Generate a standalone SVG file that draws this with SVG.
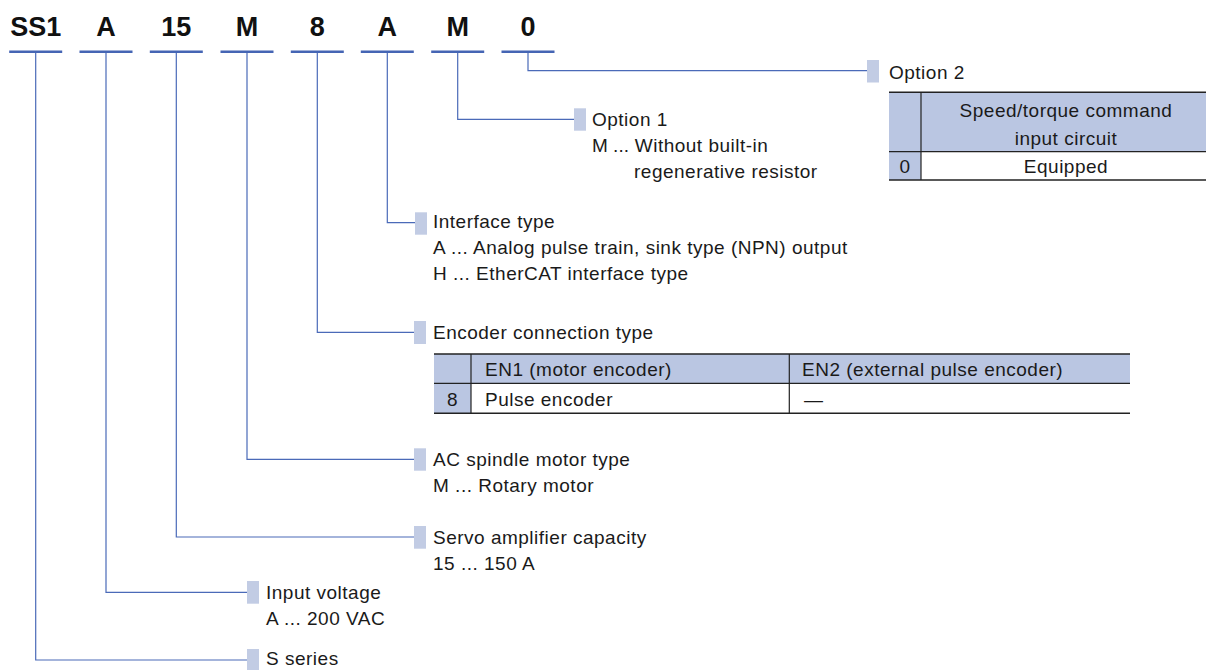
<svg xmlns="http://www.w3.org/2000/svg" width="1206" height="670" viewBox="0 0 1206 670">
<style>
.code{font-family:"Liberation Sans",Arial,sans-serif;font-weight:bold;font-size:27px;fill:#111;text-anchor:middle}
.t{font-family:"Liberation Sans",Arial,sans-serif;font-size:19px;fill:#1a1a1a;letter-spacing:0.5px}
.c{text-anchor:middle}
.ul{stroke:#4565b4;stroke-width:2.4}
.conn{fill:none;stroke:#4a6ab8;stroke-width:1.2}
.mk{fill:#c2cce4}
.hd{fill:#bac6e2}
.ln{stroke:#222;stroke-width:1.6}
.vl{stroke:#222;stroke-width:1.2}
</style>
<rect width="1206" height="670" fill="#fff"/>

<g id="code">
  <text class="code" x="35.7" y="36">SS1</text>
  <text class="code" x="106" y="36">A</text>
  <text class="code" x="176.3" y="36">15</text>
  <text class="code" x="247" y="36">M</text>
  <text class="code" x="317.3" y="36">8</text>
  <text class="code" x="387.3" y="36">A</text>
  <text class="code" x="457.7" y="36">M</text>
  <text class="code" x="528" y="36">0</text>
  <line class="ul" x1="9.2" y1="51.7" x2="62.2" y2="51.7"/>
  <line class="ul" x1="79.5" y1="51.7" x2="132.5" y2="51.7"/>
  <line class="ul" x1="149.8" y1="51.7" x2="202.8" y2="51.7"/>
  <line class="ul" x1="220.5" y1="51.7" x2="273.5" y2="51.7"/>
  <line class="ul" x1="290.8" y1="51.7" x2="343.8" y2="51.7"/>
  <line class="ul" x1="360.8" y1="51.7" x2="413.8" y2="51.7"/>
  <line class="ul" x1="431.2" y1="51.7" x2="484.2" y2="51.7"/>
  <line class="ul" x1="501.5" y1="51.7" x2="554.5" y2="51.7"/>
</g>

<g id="connectors">
  <path class="conn" d="M35.7,53 V660 H247"/>
  <path class="conn" d="M106,53 V592.3 H247"/>
  <path class="conn" d="M176.3,53 V537 H414"/>
  <path class="conn" d="M247,53 V459.3 H414"/>
  <path class="conn" d="M317.3,53 V332.3 H414"/>
  <path class="conn" d="M387.3,53 V222.7 H415"/>
  <path class="conn" d="M457.7,53 V119.3 H574"/>
  <path class="conn" d="M528,53 V70.7 H867"/>
</g>

<g id="option2">
  <rect class="mk" x="867" y="60" width="12" height="22.5"/>
  <text class="t" x="889" y="79">Option 2</text>
  <rect class="hd" x="889" y="92.3" width="317" height="59.4"/>
  <rect class="hd" x="889" y="151.7" width="32" height="28.3"/>
  <line class="ln" x1="889" y1="92.3" x2="1206" y2="92.3"/>
  <line class="vl" x1="889" y1="151.7" x2="1206" y2="151.7"/>
  <line class="ln" x1="889" y1="180" x2="1206" y2="180"/>
  <line class="vl" x1="921" y1="92.3" x2="921" y2="180"/>
  <text class="t c" x="1066" y="117">Speed/torque command</text>
  <text class="t c" x="1066" y="145">input circuit</text>
  <text class="t c" x="905" y="173">0</text>
  <text class="t c" x="1066" y="173">Equipped</text>
</g>

<g id="option1">
  <rect class="mk" x="574" y="108.3" width="12" height="22.4"/>
  <text class="t" x="592" y="126">Option 1</text>
  <text class="t" x="592" y="152"><tspan letter-spacing="0">M ...</tspan> Without built-in</text>
  <text class="t" x="634" y="178">regenerative resistor</text>
</g>

<g id="interface">
  <rect class="mk" x="415" y="212.3" width="12" height="22.4"/>
  <text class="t" x="433" y="228">Interface type</text>
  <text class="t" x="433" y="254">A ... Analog pulse train, sink type (NPN) output</text>
  <text class="t" x="433" y="280">H ... EtherCAT interface type</text>
</g>

<g id="encoder">
  <rect class="mk" x="414" y="321" width="12" height="23"/>
  <text class="t" x="433" y="339.3">Encoder connection type</text>
  <rect class="hd" x="434" y="354" width="696" height="29.3"/>
  <rect class="hd" x="434" y="383.3" width="37" height="30"/>
  <line class="ln" x1="434" y1="354" x2="1130" y2="354"/>
  <line class="vl" x1="434" y1="383.3" x2="1130" y2="383.3"/>
  <line class="ln" x1="434" y1="413.3" x2="1130" y2="413.3"/>
  <line class="vl" x1="471" y1="354" x2="471" y2="413.3"/>
  <line class="vl" x1="789.3" y1="354" x2="789.3" y2="413.3"/>
  <text class="t" x="485" y="376">EN1 (motor encoder)</text>
  <text class="t" x="802" y="376">EN2 (external pulse encoder)</text>
  <text class="t c" x="452.5" y="406">8</text>
  <text class="t" x="485" y="406">Pulse encoder</text>
  <text class="t" x="804" y="406">—</text>
</g>

<g id="motor-type">
  <rect class="mk" x="414" y="448.3" width="12" height="22.4"/>
  <text class="t" x="433" y="466">AC spindle motor type</text>
  <text class="t" x="433" y="492">M ... Rotary motor</text>
</g>

<g id="capacity">
  <rect class="mk" x="414" y="526" width="12" height="22.7"/>
  <text class="t" x="433" y="544">Servo amplifier capacity</text>
  <text class="t" x="433" y="570">15 ... 150 A</text>
</g>

<g id="voltage">
  <rect class="mk" x="247" y="581" width="12" height="22.7"/>
  <text class="t" x="266" y="599">Input voltage</text>
  <text class="t" x="266" y="625">A ... 200 VAC</text>
</g>

<g id="series">
  <rect class="mk" x="247" y="649" width="12" height="22"/>
  <text class="t" x="266" y="665">S series</text>
</g>
</svg>
